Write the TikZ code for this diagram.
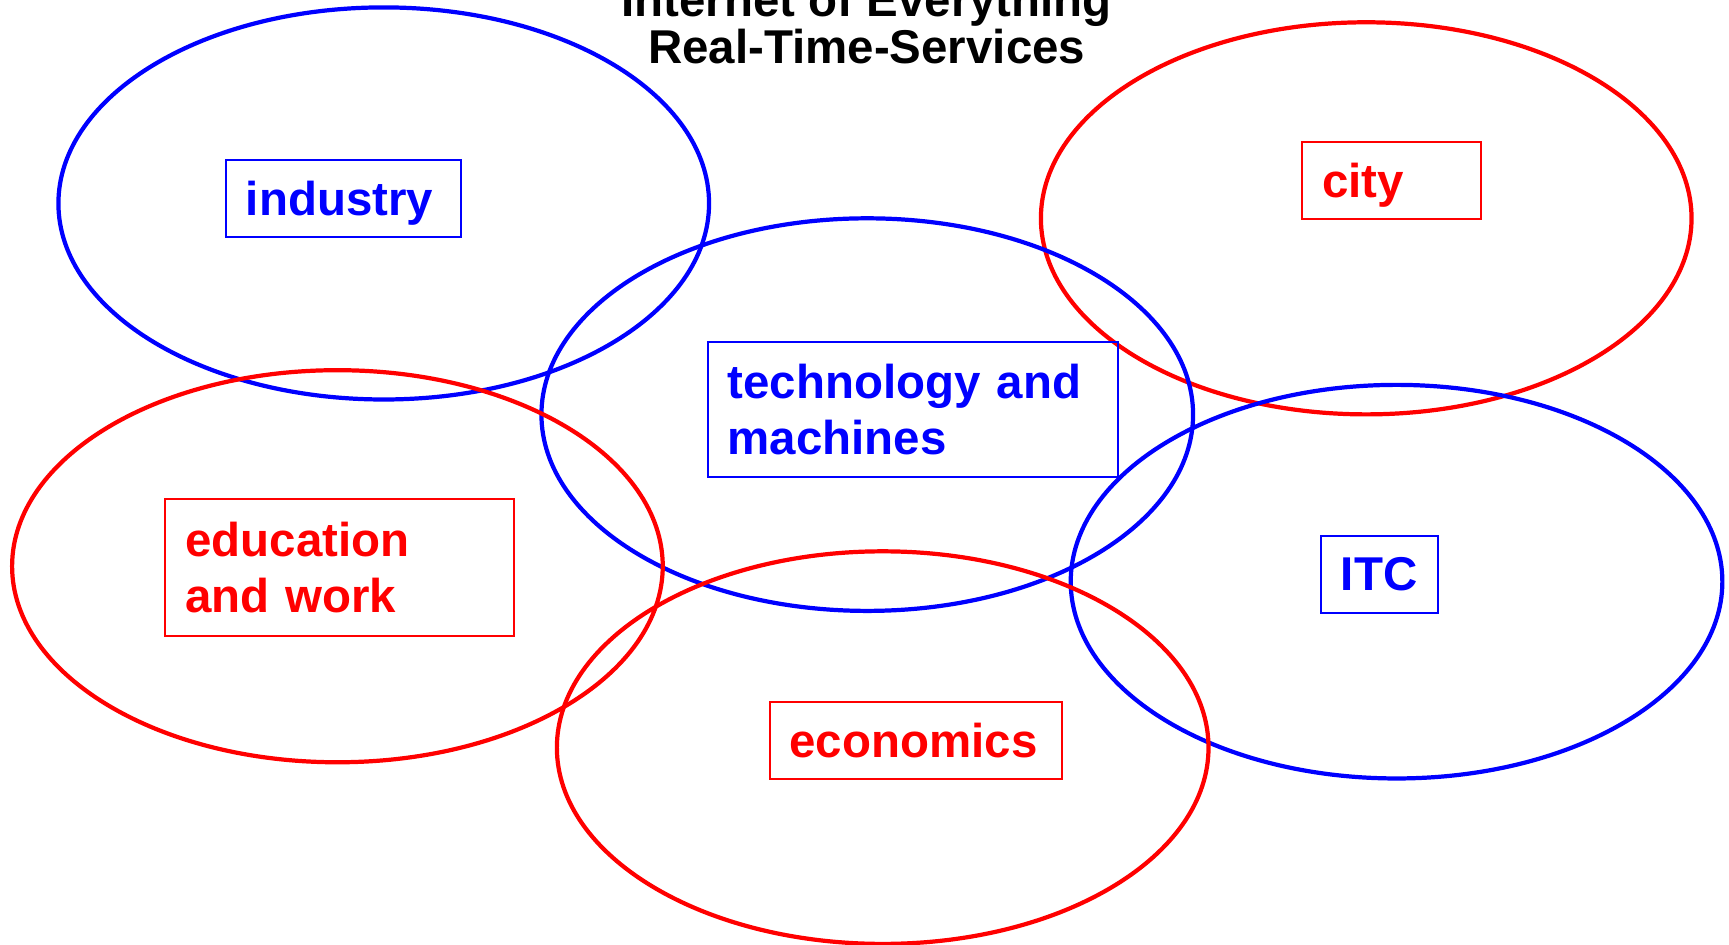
\documentclass[tikz,border=0pt]{standalone}
\usepackage{fontspec}
\setmainfont{Liberation Sans}
\begin{document}
\begin{tikzpicture}[x=0.02205cm,y=-0.02205cm,
                    ring/.style={line width=2.4pt},
                    label box/.style={draw,line width=1.1pt,anchor=north west,align=left,
                      inner xsep=0.4cm,inner ysep=0pt,font=\fontsize{27}{32}\selectfont\bfseries}]
  \useasboundingbox (0,0) rectangle (1568,857);
  \node[font=\fontsize{27}{24}\selectfont\bfseries,align=center,anchor=south,inner sep=0pt] (title)
    at (786,58) {Internet of Everything\\Real-Time-Services};
  \draw[ring,blue] (348,184.5) ellipse [x radius=6.505cm,y radius=3.92cm];
  \draw[ring,red] (1239,198) ellipse [x radius=6.505cm,y radius=3.92cm];
  \draw[ring,blue] (786.5,376) ellipse [x radius=6.515cm,y radius=3.925cm];
  \draw[ring,red] (306,513.5) ellipse [x radius=6.505cm,y radius=3.92cm];
  \draw[ring,blue] (1266.5,527.5) ellipse [x radius=6.515cm,y radius=3.935cm];
  \draw[ring,red] (800.5,678) ellipse [x radius=6.515cm,y radius=3.925cm];
  \node[label box,blue,text width=3.90cm,text depth=0pt,minimum height=1.54cm] (industry) at (204,144) {industry};
  \node[label box,red,text width=2.78cm,text depth=0pt,minimum height=1.54cm] (city) at (1180,128) {city};
  \node[label box,blue,text width=7.41cm,minimum height=2.71cm] (tech) at (641,309) {technology and\\machines};
  \node[label box,red,text width=6.17cm,minimum height=2.73cm] (education) at (149,452) {education\\and work};
  \node[label box,blue,text width=1.54cm,minimum height=1.54cm] (itc) at (1197,485) {ITC};
  \node[label box,red,text width=5.05cm,minimum height=1.54cm] (economics) at (697,636) {economics};
\end{tikzpicture}
\end{document}
